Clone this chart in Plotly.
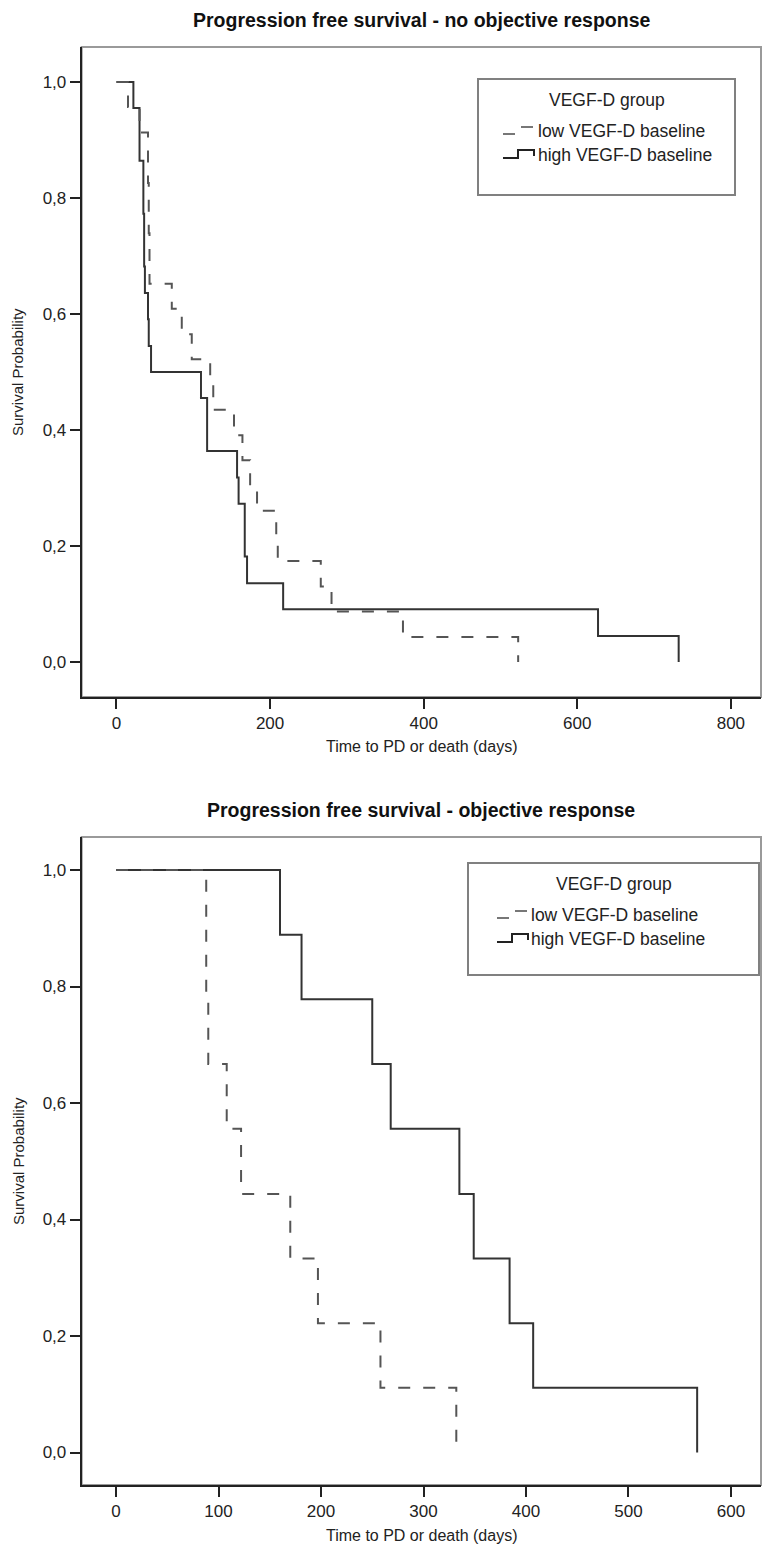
import plotly.graph_objects as go

W, H = 765, 1557

# ---------------- data ----------------
# Top panel: no objective response (Kaplan-Meier step values)
nor_low_days = [0, 15, 30, 41, 42, 43, 72, 85, 98, 122, 126, 153, 164, 174, 183, 208, 210, 266, 280, 373, 523]
nor_low_surv = [1.0, 0.957, 0.913, 0.826, 0.739, 0.652, 0.609, 0.565, 0.522, 0.478, 0.435, 0.391, 0.348,
                0.304, 0.261, 0.217, 0.174, 0.130, 0.087, 0.043, 0.0]
nor_high_days = [0, 22, 30, 35, 36, 37, 41, 42, 45, 110, 118, 157, 159, 167, 170, 217, 627, 732]
nor_high_surv = [1.0, 0.955, 0.864, 0.773, 0.682, 0.636, 0.591, 0.545, 0.5, 0.455, 0.364, 0.318, 0.273,
                 0.182, 0.136, 0.091, 0.045, 0.0]

# Bottom panel: objective response
or_low_days = [0, 88, 90, 108, 122, 170, 197, 258, 332]
or_low_surv = [1.0, 0.778, 0.667, 0.556, 0.444, 0.333, 0.222, 0.111, 0.0]
or_high_days = [0, 160, 181, 250, 268, 335, 349, 384, 407, 567]
or_high_surv = [1.0, 0.889, 0.778, 0.667, 0.556, 0.444, 0.333, 0.222, 0.111, 0.0]

titles = ["Progression free survival - no objective response", "Progression free survival - objective response"]
x_title = "Time to PD or death (days)"
y_title = "Survival Probability"
legend_title = "VEGF-D group"
series_names = ["low VEGF-D baseline", "high VEGF-D baseline"]
top_xticks = [0, 200, 400, 600, 800]
bot_xticks = [0, 100, 200, 300, 400, 500, 600]
yticks = [0.0, 0.2, 0.4, 0.6, 0.8, 1.0]
ytick_text = ["0,0", "0,2", "0,4", "0,6", "0,8", "1,0"]

FONT = "Liberation Sans, Arial, sans-serif"
SOLID = "#333333"
DASHC = "#555555"


def px(x):
    return x / W


def py(y):
    return 1 - y / H


# panel geometry (pixels)
L, R = 81.7, 761
top_box = (47, 697)
bot_box = (837, 1485)

fig = go.Figure()


def add_steps(days, surv, xa, ya, dashed, name):
    fig.add_trace(go.Scatter(
        x=days, y=surv, mode="lines", line_shape="hv", name=name, showlegend=False,
        xaxis=xa, yaxis=ya,
        line=dict(color=DASHC if dashed else SOLID, width=2,
                  dash="12px,13px" if dashed else "solid")))


add_steps(nor_high_days, nor_high_surv, "x", "y", False, series_names[1])
add_steps(nor_low_days, nor_low_surv, "x", "y", True, series_names[0])
add_steps(or_high_days, or_high_surv, "x2", "y2", False, series_names[1])
add_steps(or_low_days, or_low_surv, "x2", "y2", True, series_names[0])

axis_common = dict(showgrid=False, zeroline=False, showline=True, linecolor="#222", linewidth=2,
                   ticks="outside", ticklen=10, tickwidth=2, tickcolor="#222",
                   tickfont=dict(family=FONT, size=17, color="#222"))

fig.update_layout(
    width=W, height=H, margin=dict(l=0, r=0, t=0, b=0),
    paper_bgcolor="white", plot_bgcolor="white", showlegend=False,
    xaxis=dict(domain=[px(L), px(R)], range=[-45.3, 839.2], tickvals=top_xticks, anchor="y", **axis_common),
    yaxis=dict(domain=[py(top_box[1]), py(top_box[0])], range=[-0.0603, 1.0603], tickvals=yticks,
               ticktext=ytick_text, anchor="x", **axis_common),
    xaxis2=dict(domain=[px(L), px(R)], range=[-33.5, 629.3], tickvals=bot_xticks, anchor="y2", **axis_common),
    yaxis2=dict(domain=[py(bot_box[1]), py(bot_box[0])], range=[-0.0558, 1.0567], tickvals=yticks,
                ticktext=ytick_text, anchor="x2", **axis_common),
)

shapes = []
# grey frame (top/right) around each plot area
for (t, b) in (top_box, bot_box):
    shapes.append(dict(type="rect", xref="paper", yref="paper", x0=px(L), x1=px(R), y0=py(b), y1=py(t),
                       line=dict(color="#9a9a9a", width=2), layer="below"))

annotations = []
for (t, b), ttl in zip((top_box, bot_box), titles):
    annotations.append(dict(text="<b>%s</b>" % ttl, x=px((L + R) / 2), y=py(t - 27), xref="paper", yref="paper",
                            showarrow=False, xanchor="center", yanchor="middle",
                            font=dict(family=FONT, size=19.5, color="#111")))
    annotations.append(dict(text=x_title, x=px((L + R) / 2), y=py(b + 50), xref="paper", yref="paper",
                            showarrow=False, xanchor="center", yanchor="middle",
                            font=dict(family=FONT, size=16, color="#222")))
    annotations.append(dict(text=y_title, x=px(18), y=py((t + b) / 2), xref="paper", yref="paper",
                            showarrow=False, xanchor="center", yanchor="middle", textangle=-90,
                            font=dict(family=FONT, size=15, color="#222")))

# legends (drawn as boxes with glyphs)
legends = [
    dict(box=(478, 79, 735, 195), sx=503, tx=536),
    dict(box=(468, 863, 759, 975), sx=497, tx=529),
]
for lg in legends:
    x0, y0, x1, y1 = lg["box"]
    shapes.append(dict(type="rect", xref="paper", yref="paper", x0=px(x0), x1=px(x1), y0=py(y1), y1=py(y0),
                       line=dict(color="#808080", width=2)))
    cx = (x0 + x1) / 2
    annotations.append(dict(text=legend_title, x=px(cx), y=py(y0 + 21), xref="paper", yref="paper",
                            showarrow=False, xanchor="center", yanchor="middle",
                            font=dict(family=FONT, size=17.5, color="#222")))
    sx, tx = lg["sx"], lg["tx"]
    yl, yh = y0 + 52, y0 + 76
    shapes.append(dict(type="line", xref="paper", yref="paper", x0=px(sx), x1=px(sx + 12), y0=py(yl + 3), y1=py(yl + 3),
                       line=dict(color="#777", width=2)))
    shapes.append(dict(type="line", xref="paper", yref="paper", x0=px(sx + 18), x1=px(sx + 30), y0=py(yl - 4), y1=py(yl - 4),
                       line=dict(color="#777", width=2)))
    shapes.append(dict(type="path", xref="paper", yref="paper",
                       path="M %f,%f L %f,%f L %f,%f L %f,%f L %f,%f" % (
                           px(sx), py(yh + 3), px(sx + 15), py(yh + 3), px(sx + 15), py(yh - 5),
                           px(sx + 31), py(yh - 5), px(sx + 31), py(yh + 1)),
                       line=dict(color="#222", width=2)))
    for name, yy in zip(series_names, (yl, yh)):
        annotations.append(dict(text=name, x=px(tx), y=py(yy), xref="paper", yref="paper",
                                showarrow=False, xanchor="left", yanchor="middle",
                                font=dict(family=FONT, size=17.5, color="#222")))

fig.update_layout(shapes=shapes, annotations=annotations)
fig.write_html("out.html", config={"displayModeBar": False},
               post_script="document.body.style.margin='0';document.body.style.overflow='hidden';")
